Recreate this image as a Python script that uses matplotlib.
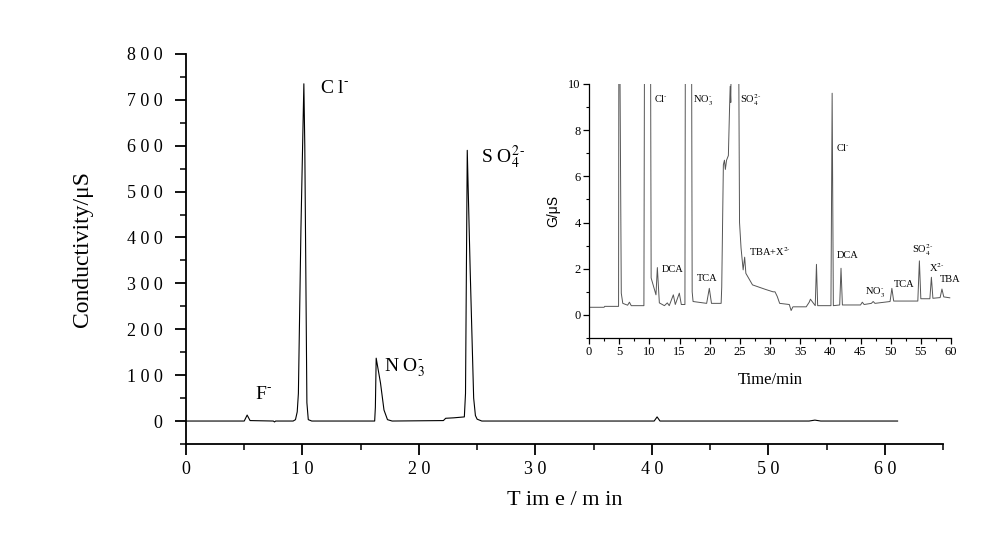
import matplotlib
matplotlib.use("Agg")
import matplotlib.pyplot as plt
from matplotlib.ticker import MultipleLocator, FuncFormatter

plt.rcParams['font.family'] = ['Liberation Serif', 'DejaVu Serif']
plt.rcParams['mathtext.fontset'] = 'stix'

# Cromatograma principal (tempo em min, condutividade em uS)
main_t = [0, 5.0, 5.25, 5.5, 7.5, 7.6, 7.7, 9.2, 9.4, 9.55, 9.65, 9.87, 10.12, 10.2,
          10.38, 10.5, 10.8, 16.2, 16.26, 16.33, 16.7, 17.0, 17.3, 17.7, 22.1, 22.3,
          23.0, 23.9, 24.0, 24.15, 24.4, 24.7, 24.85, 25.0, 25.4, 40.2, 40.45, 40.7,
          53.5, 54.0, 54.5, 61.1]
main_v = [0, 0, 13, 1, 0, -2, 0, 0, 3, 20, 60, 420, 735, 600,
          40, 3, 0, 0, 30, 137, 83, 24, 3, 0, 1, 6,
          7, 9, 60, 590, 330, 50, 12, 4, 0, 0, 9, 0,
          0, 2, 0, 0]

# Detalhe (inset): G em uS
ins_t = [0, 2.5, 2.6, 4.9, 4.95, 5.1, 5.35, 5.6, 6.4, 6.7, 7.0, 9.1, 9.2, 10.2, 10.3,
         10.77, 11.1, 11.33, 11.66, 12.5, 12.98, 13.3, 13.98, 14.3, 14.97, 15.3, 15.9,
         15.97, 17.0, 17.1, 17.25, 19.5, 19.94, 20.3, 21.9, 22.0, 22.27, 22.45, 22.6,
         22.8, 23.1, 23.3, 23.4, 23.5, 23.6, 24.8, 24.95, 25.2, 25.55, 25.8, 26.0,
         27.1, 29.3, 30.5, 30.83, 31.2, 31.6, 33.2, 33.5, 33.8, 36.0, 36.5, 36.7,
         37.5, 37.7, 37.9, 40.1, 40.3, 40.5, 41.55, 41.77, 42.0, 45.0, 45.3, 45.6,
         46.8, 47.1, 47.4, 49.9, 50.2, 50.5, 54.5, 54.76, 55.0, 56.5, 56.75, 57.0,
         58.2, 58.5, 58.8, 59.8]
ins_g = [0.33, 0.33, 0.37, 0.37, 12, 12, 0.94, 0.5, 0.42, 0.55, 0.4, 0.4, 12, 12, 1.6,
         1.17, 0.87, 2.05, 0.52, 0.4, 0.52, 0.4, 0.87, 0.45, 0.94, 0.45, 0.45,
         12, 12, 1.0, 0.58, 0.5, 1.15, 0.5, 0.5, 1.2, 6.5, 6.7, 6.3,
         6.7, 6.9, 9.0, 9.9, 9.2, 12, 12, 4.0, 2.9, 1.95, 2.5, 1.8,
         1.3, 1.1, 1.0, 1.0, 0.8, 0.5, 0.45, 0.19, 0.35, 0.35, 0.55, 0.68,
         0.4, 2.19, 0.4, 0.4, 9.6, 0.4, 0.43, 2.02, 0.43, 0.43, 0.55, 0.45,
         0.5, 0.58, 0.5, 0.58, 1.15, 0.6, 0.6, 2.34, 0.7, 0.7, 1.63, 0.72,
         0.75, 1.12, 0.78, 0.74]

main_labels = [(r"C l$^{\text{-}}$", 11.5, 725), (r"S O$_{4}^{2\,\text{-}}$", 25.3, 575),
               (r"N O$_{3}^{\text{-}}$", 17.0, 115), (r"F$^{\text{-}}$", 5.9, 58)]
ins_labels = [(r"Cl$^{\text{-}}$", 10.83, 9.38), (r"NO$_3^{\text{-}}$", 17.2, 9.3),
              (r"SO$_4^{2\text{-}}$", 25.1, 9.3), ("DCA", 12.05, 1.95), ("TCA", 17.96, 1.59),
              (r"TBA+X$^{2\text{-}}$", 26.5, 2.74), (r"Cl$^{\text{-}}$", 40.9, 7.26),
              ("DCA", 41.05, 2.57), (r"NO$_3^{\text{-}}$", 45.75, 1.0), ("TCA", 50.6, 1.3),
              (r"SO$_4^{2\text{-}}$", 53.5, 2.8), (r"X$^{2\text{-}}$", 56.4, 2.07), ("TBA", 58.2, 1.54)]

fig = plt.figure(figsize=(10, 5.54), dpi=100)

# --- eixo principal ---
ax = fig.add_axes([0.186, 0.1986, 0.757, 0.704])
ax.plot(main_t, main_v, color="black", lw=0.8)
ax.set_xlim(0, 65)
ax.set_ylim(-50, 800)
for s in ["top", "right"]:
    ax.spines[s].set_visible(False)
for s in ["left", "bottom"]:
    ax.spines[s].set_linewidth(1.3)

espacado = FuncFormatter(lambda v, p: " ".join(str(int(round(v)))))
ax.xaxis.set_major_locator(MultipleLocator(10))
ax.xaxis.set_minor_locator(MultipleLocator(5))
ax.yaxis.set_major_locator(MultipleLocator(100))
ax.yaxis.set_minor_locator(MultipleLocator(50))
ax.xaxis.set_major_formatter(FuncFormatter(lambda v, p: "" if v > 60 else " ".join(str(int(round(v))))))
ax.yaxis.set_major_formatter(espacado)
ax.tick_params(which="major", direction="out", length=8, width=1.3, labelsize=13)
ax.tick_params(which="minor", direction="out", length=4, width=1.1)
ax.tick_params(axis="y", which="major", pad=9)
ax.tick_params(axis="x", which="major", pad=4)

ax.set_ylabel("Conductivity/μS", fontsize=17)
ax.yaxis.set_label_coords(-0.123, 0.5)
ax.set_xlabel("T im e / m in", fontsize=16)
ax.xaxis.set_label_coords(0.5, -0.12)

for txt, x, y in main_labels:
    ax.text(x, y, txt, fontsize=14, ha="left", va="center")

# --- inset ---
ins = fig.add_axes([0.589, 0.3899, 0.362, 0.4585])
ins.plot(ins_t, ins_g, color="#555555", lw=0.7)
ins.set_xlim(0, 60)
ins.set_ylim(-1, 10)
for s in ["top", "right"]:
    ins.spines[s].set_visible(False)
for s in ["left", "bottom"]:
    ins.spines[s].set_linewidth(0.9)
ins.xaxis.set_major_locator(MultipleLocator(5))
ins.xaxis.set_minor_locator(MultipleLocator(2.5))
ins.yaxis.set_major_locator(MultipleLocator(2))
ins.yaxis.set_minor_locator(MultipleLocator(1))
ins.tick_params(which="major", direction="out", length=4, width=0.9, labelsize=9, pad=2)
ins.tick_params(which="minor", direction="out", length=2, width=0.8)
ins.set_xlabel("Time/min", fontsize=12, labelpad=10)
ins.set_ylabel("G/μS", fontsize=10, labelpad=6, family=["Liberation Sans", "DejaVu Sans"])

for txt, x, y in ins_labels:
    ins.text(x, y, txt, fontsize=7.5, ha="left", va="center")

fig.savefig("out.png", dpi=100)
